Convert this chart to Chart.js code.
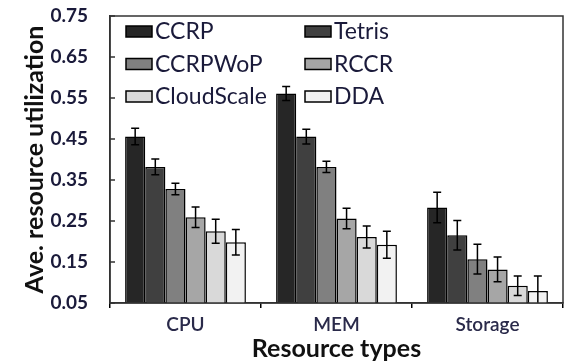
<!DOCTYPE html>
<html>
<head>
<meta charset="utf-8">
<script src="https://cdn.jsdelivr.net/npm/chart.js@4.4.1/dist/chart.umd.min.js"></script>
<style>
  html, body { margin: 0; padding: 0; background: #fff; }
  #wrap { width: 565px; height: 361px; position: relative; }
</style>
</head>
<body>
<div id="wrap"><canvas id="c" width="565" height="361"></canvas></div>
<script>
// ---- data ----
const categories = ['CPU', 'MEM', 'Storage'];
const seriesNames = ['CCRP', 'Tetris', 'CCRPWoP', 'RCCR', 'CloudScale', 'DDA'];
const ccrpValues       = [0.456, 0.561, 0.283];
const tetrisValues     = [0.382, 0.456, 0.215];
const ccrpwopValues    = [0.328, 0.382, 0.157];
const rccrValues       = [0.259, 0.256, 0.132];
const cloudscaleValues = [0.225, 0.211, 0.092];
const ddaValues        = [0.198, 0.192, 0.079];
const ccrpErr       = [0.020, 0.017, 0.037];
const tetrisErr     = [0.019, 0.018, 0.036];
const ccrpwopErr    = [0.014, 0.014, 0.036];
const rccrErr       = [0.025, 0.025, 0.030];
const cloudscaleErr = [0.029, 0.027, 0.024];
const ddaErr        = [0.031, 0.033, 0.037];
const yTickLabels = ['0.05', '0.15', '0.25', '0.35', '0.45', '0.55', '0.65', '0.75'];

const seriesValues = [ccrpValues, tetrisValues, ccrpwopValues, rccrValues, cloudscaleValues, ddaValues];
const seriesErrs = [ccrpErr, tetrisErr, ccrpwopErr, rccrErr, cloudscaleErr, ddaErr];
const colors = ['#262626', '#404040', '#808080', '#a6a6a6', '#d9d9d9', '#f2f2f2'];

const FONT = 'Lato, "Open Sans", sans-serif';

const datasets = seriesNames.map((name, i) => ({
  label: name,
  data: seriesValues[i],
  errors: seriesErrs[i],
  backgroundColor: colors[i],
  borderColor: '#000',
  borderWidth: 1.5,
  borderSkipped: 'start',
  categoryPercentage: 0.8,
  barPercentage: 1.0
}));

const decorPlugin = {
  id: 'decor',
  afterDatasetsDraw(chart) {
    const ctx = chart.ctx;
    const y = chart.scales.y;
    ctx.save();
    ctx.strokeStyle = '#000';
    ctx.lineWidth = 1.5;
    chart.data.datasets.forEach((ds, di) => {
      const meta = chart.getDatasetMeta(di);
      meta.data.forEach((bar, j) => {
        const v = ds.data[j], e = ds.errors[j];
        const x = bar.x;
        const yt = y.getPixelForValue(v + e);
        const yb = y.getPixelForValue(Math.max(v - e, y.min));
        ctx.beginPath();
        ctx.moveTo(x, yt); ctx.lineTo(x, yb);
        ctx.moveTo(x - 4, yt); ctx.lineTo(x + 4, yt);
        if (v - e >= y.min) { ctx.moveTo(x - 4, yb); ctx.lineTo(x + 4, yb); }
        ctx.stroke();
      });
    });
    ctx.restore();
  },
  afterDraw(chart) {
    const ctx = chart.ctx;
    const a = chart.chartArea;
    const y = chart.scales.y;
    ctx.save();
    ctx.strokeStyle = '#333';
    ctx.lineWidth = 1.5;
    ctx.strokeRect(a.left, a.top, a.right - a.left, a.bottom - a.top);
    ctx.beginPath();
    y.ticks.forEach(t => {
      const py = y.getPixelForValue(t.value);
      ctx.moveTo(a.left, py); ctx.lineTo(a.left + 5, py);
    });
    ctx.stroke();
    // legend
    const cols = [a.left + 16, a.left + 195];
    const rowTop = a.top + 10;
    const rowGap = 32.5;
    ctx.font = '23px ' + FONT;
    ctx.textBaseline = 'middle';
    ctx.textAlign = 'left';
    chart.data.datasets.forEach((ds, i) => {
      const col = i % 2, row = Math.floor(i / 2);
      const bx = cols[col], by = rowTop + row * rowGap;
      ctx.fillStyle = ds.backgroundColor;
      ctx.fillRect(bx, by, 26, 11);
      ctx.strokeStyle = '#000';
      ctx.lineWidth = 1.5;
      ctx.strokeRect(bx, by, 26, 11);
      ctx.fillStyle = '#1a1a3a';
      ctx.fillText(ds.label, bx + 29, by + 6);
    });
    ctx.restore();
  }
};

new Chart(document.getElementById('c'), {
  type: 'bar',
  data: { labels: categories, datasets },
  options: {
    responsive: false,
    animation: false,
    devicePixelRatio: 1,
    layout: { padding: { top: 16, right: 2, left: 0, bottom: 0 } },
    plugins: { legend: { display: false }, tooltip: { enabled: false } },
    scales: {
      x: {
        grid: { offset: true, drawOnChartArea: false, drawTicks: true, tickLength: 5, color: '#000', lineWidth: 1.5 },
        border: { display: true, color: '#333', width: 1.5 },
        ticks: { font: { family: FONT, size: 19, weight: '600' }, color: '#2a2a4a', padding: 5 },
        title: { display: true, text: 'Resource types', font: { family: FONT, size: 25, weight: 'bold' }, color: '#111', padding: { top: 0, bottom: -3 } },
        afterFit(s) { s.height = 58; }
      },
      y: {
        min: 0.05, max: 0.75,
        grid: { display: true, drawOnChartArea: false, drawTicks: false },
        border: { display: true, color: '#333', width: 1.5 },
        ticks: {
          stepSize: 0.1,
          padding: 22,
          font: { family: FONT, size: 19, weight: 'bold' },
          color: '#1a1a3a',
          callback: (v, i) => yTickLabels[i]
        },
        title: { display: true, text: 'Ave. resource utilization', font: { family: FONT, size: 25, weight: 'bold' }, color: '#111', padding: { top: 20, bottom: 0 } },
        afterFit(s) { s.width = 110; s.paddingTop = 0; s.paddingBottom = 0; }
      }
    }
  },
  plugins: [decorPlugin]
});
</script>
</body>
</html>
